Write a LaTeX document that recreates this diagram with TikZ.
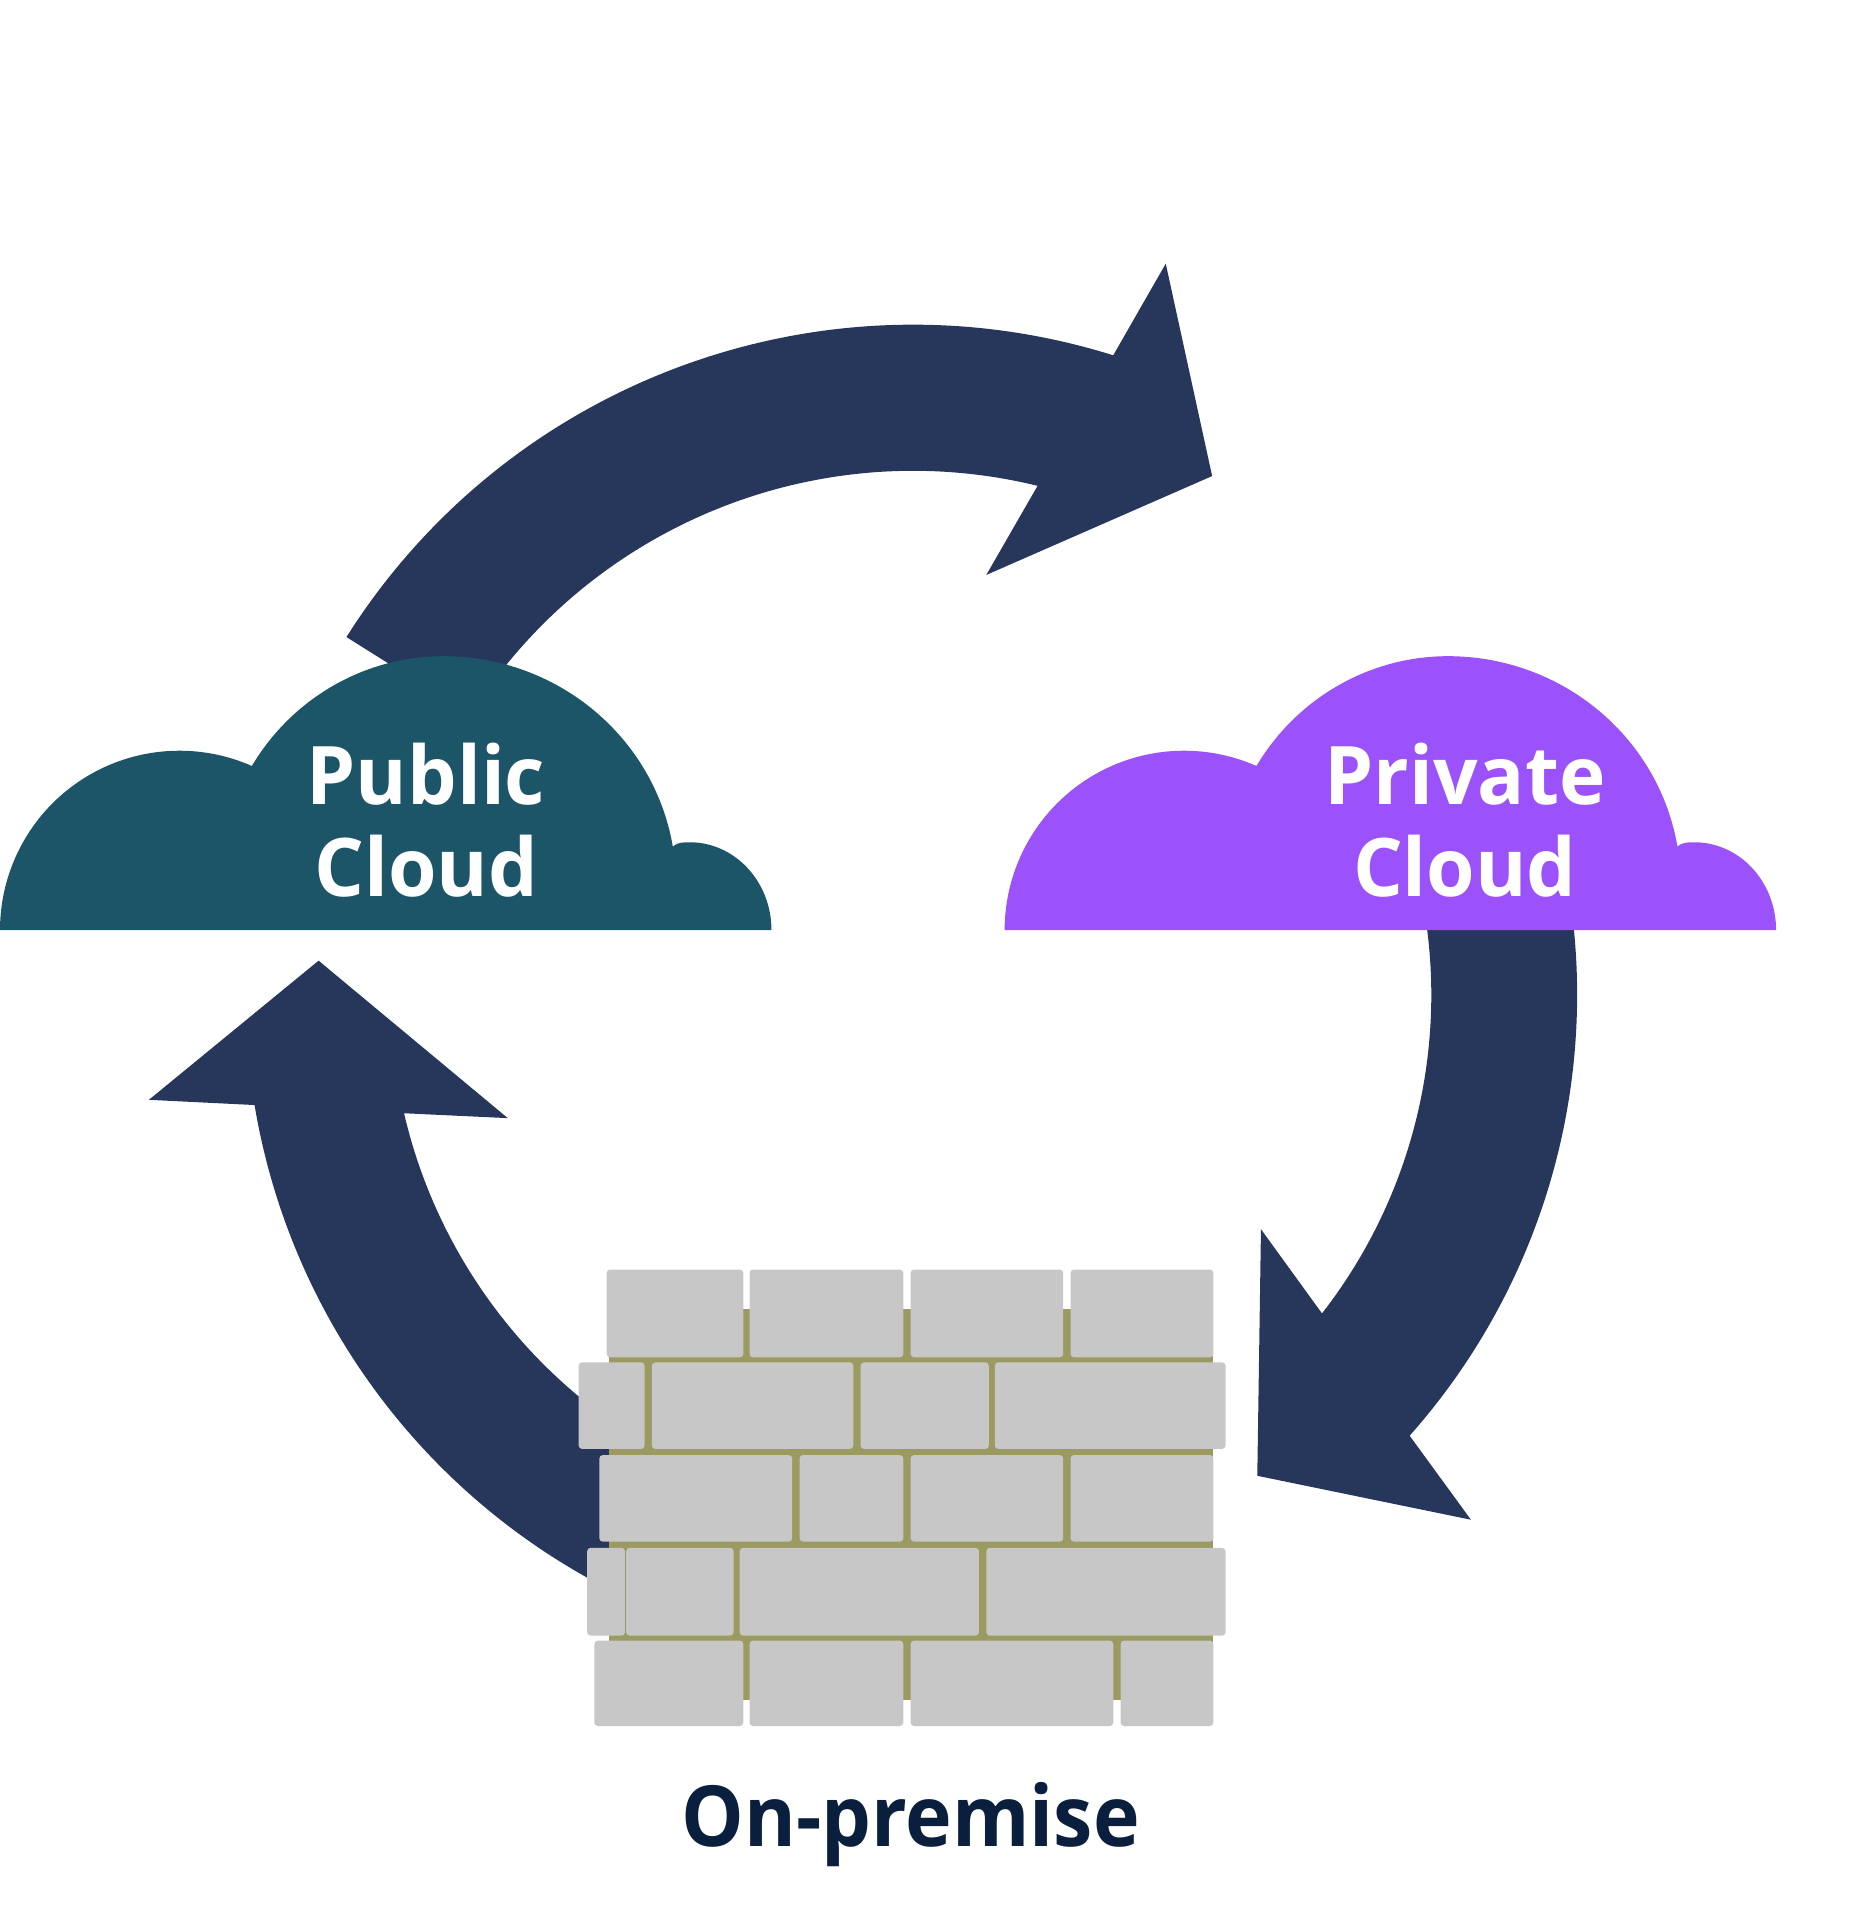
\documentclass[tikz,border=0pt]{standalone}
\usepackage{fontspec}
\setmainfont[FakeStretch=0.97]{Open Sans}
\newfontfamily\wallfont[FakeStretch=0.935]{Open Sans}
\definecolor{flowblue}{HTML}{27375C}
\definecolor{publicteal}{HTML}{1D5568}
\definecolor{privatepurple}{HTML}{9B52FA}
\definecolor{brickgrey}{HTML}{C7C7C7}
\definecolor{mortarolive}{HTML}{9B9A60}
\definecolor{wallink}{HTML}{0A1F3E}
\tikzset{
    flowarrow/.style={fill=flowblue},
    brick/.style={fill=brickgrey, rounded corners=1pt},
    cloudlabel/.style={text=white, align=center, inner sep=0pt, font=\bfseries\fontsize{23}{26}\selectfont},
}
% one cloud, moved sideways by #1
\newcommand{\cloudat}[2]{%
    \fill[#2, shift={(#1,0)}] (0,762)
        arc[start angle=180, end angle=293.8, radius=147]
        arc[start angle=211.27, end angle=270, x radius=183.6, y radius=187]
        arc[start angle=270, end angle=350.45, x radius=190.6, y radius=187]
        .. controls (555,690) and (560,690) .. (565,690)
        arc[start angle=270, end angle=360, x radius=67, y radius=72]
        -- cycle;
}
\begin{document}
\begin{tikzpicture}[x=0.012206cm, y=0.012206cm, yscale=-1]
    \useasboundingbox (0,0) rectangle (1523,1568);
    \coordinate (hub) at (748,815);

    % Draw arrows
    \fill[flowarrow] (hub) ++(212.27:549) arc[start angle=212.27, end angle=287.38, radius=549]
        -- (955,216) -- (993,390) -- (808,471) -- (850,398)
        arc[start angle=283.74, end angle=212.27, radius=429] -- cycle;
    \fill[flowarrow] (hub) ++(-10:544) arc[start angle=-10, end angle=41.6, radius=544]
        -- (1205,1245) -- (1030,1209) -- (1033,1007) -- (1083,1076)
        arc[start angle=37.9, end angle=-10, radius=424.5] -- cycle;
    \fill[flowarrow] (hub) ++(115:547) arc[start angle=115, end angle=170.5, radius=547]
        -- (122,901) -- (261,787) -- (416,916) -- (331,912)
        arc[start angle=166.9, end angle=115, radius=428] -- cycle;

    % Draw clouds
    \cloudat{0}{publicteal}
    \cloudat{823}{privatepurple}
    \node[cloudlabel] (publiclabel) at (349,672) {Public\\Cloud};
    \node[cloudlabel] (privatelabel) at (1200,672) {Private\\Cloud};

    % Draw wall
    \fill[mortarolive] (499,1072) rectangle (994,1393);
    \foreach \xa/\xb in {497/609, 614/740, 746/871, 877/994}
        \fill[brick] (\xa,1040) rectangle (\xb,1112);
    \foreach \xa/\xb in {474/528, 534/699, 705/810, 815/1004}
        \fill[brick] (\xa,1116) rectangle (\xb,1187);
    \foreach \xa/\xb in {491/649, 655/740, 746/871, 877/994}
        \fill[brick] (\xa,1192) rectangle (\xb,1263);
    \foreach \xa/\xb in {481/512, 513/601, 606/802, 808/1004}
        \fill[brick] (\xa,1268) rectangle (\xb,1340);
    \foreach \xa/\xb in {487/609, 614/740, 746/912, 918/994}
        \fill[brick] (\xa,1344) rectangle (\xb,1414);

    \node[text=wallink, anchor=base, inner sep=0pt, font=\wallfont\bfseries\fontsize{24}{28}\selectfont] (walllabel) at (746,1513) {On-premise};
\end{tikzpicture}
\end{document}
